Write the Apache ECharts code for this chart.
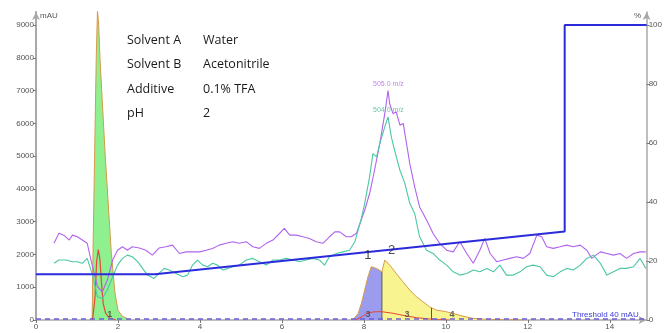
<!DOCTYPE html>
<html>
<head>
<meta charset="utf-8">
<script src="https://cdn.jsdelivr.net/npm/echarts@6.0.0/dist/echarts.min.js"></script>
<style>
  html, body { margin: 0; padding: 0; background: #fff; }
  #chart { width: 665px; height: 333px; }
</style>
</head>
<body>
<div id="chart"></div>
<script>
// retention time ticks (min) and axis ticks
const timeTicks = [0, 2, 4, 6, 8, 10, 12, 14]
const mauTicks = [0, 1000, 2000, 3000, 4000, 5000, 6000, 7000, 8000, 9000]
const pctTicks = [0, 20, 40, 60, 80, 100]

// UV trace, first (unretained) peak [time, mAU]
const uvFront = [[1.30, 0], [1.37, 60], [1.39, 2000], [1.43, 5000], [1.47, 8000], [1.50, 9450], [1.53, 9000],
  [1.56, 8000], [1.69, 5000], [1.84, 2000], [1.93, 800], [2.0, 300], [2.1, 120], [2.3, 0]]
const redFront = [[1.38, 0], [1.44, 700], [1.48, 1800], [1.52, 2150], [1.56, 1850], [1.60, 1100], [1.64, 500],
  [1.70, 200], [1.80, 60], [1.95, 0]]

// UV trace, fractions 1 and 2
const peak1 = [[7.73, 0], [7.86, 200], [7.94, 510], [8.02, 915], [8.10, 1320], [8.18, 1625], [8.31, 1575], [8.44, 1470]]
const peak2 = [[8.44, 1470], [8.51, 1830], [8.63, 1675], [8.79, 1420], [8.95, 1170], [9.12, 915], [9.28, 710],
  [9.44, 560], [9.60, 405], [9.76, 305], [10.0, 255], [10.16, 205], [10.41, 120], [10.66, 50], [11.0, 20],
  [11.5, 10], [11.9, 0]]
const redMain = [[7.8, 0], [7.95, 100], [8.07, 205], [8.25, 250], [8.43, 255], [8.71, 205], [9.0, 130],
  [9.29, 70], [9.61, 30], [9.85, 15], [10.1, 0]]
const fractionCuts = [8.44, 9.65]
const cutHeights = [1470, 370]

// mass traces (plotted on mAU scale)
const mz505 = [[0.44, 2340], [0.56, 2650], [0.68, 2590], [0.81, 2440], [0.89, 2590], [1.01, 2540], [1.13, 2440],
  [1.25, 2340], [1.38, 1625], [1.50, 1015], [1.62, 860], [1.74, 1220], [1.87, 1830], [1.99, 2130], [2.11, 2235],
  [2.23, 2130], [2.35, 2235], [2.52, 2195], [2.68, 2130], [2.84, 1980], [3.0, 2195], [3.17, 2235], [3.33, 2285],
  [3.5, 2030], [3.66, 2080], [3.82, 2080], [3.99, 2080], [4.15, 2130], [4.31, 2185], [4.47, 2285], [4.64, 2340],
  [4.8, 2390], [4.96, 2340], [5.13, 2390], [5.29, 2235], [5.45, 2185], [5.62, 2340], [5.78, 2440], [5.94, 2640],
  [6.06, 2795], [6.19, 2590], [6.35, 2590], [6.51, 2540], [6.67, 2490], [6.84, 2390], [7.0, 2340], [7.16, 2540],
  [7.29, 2690], [7.41, 2690], [7.57, 2540], [7.69, 2540], [7.82, 2650], [7.92, 3000], [8.02, 3350], [8.14, 3860],
  [8.26, 4570], [8.39, 5390], [8.51, 6300], [8.59, 7000], [8.63, 6600], [8.71, 6300], [8.79, 6350], [8.88, 5945],
  [8.96, 6000], [9.04, 5390], [9.12, 4780], [9.24, 4065], [9.36, 3450], [9.53, 3050], [9.69, 2640], [9.85, 2340],
  [10.02, 2130], [10.18, 2080], [10.34, 2390], [10.51, 2030], [10.67, 1730], [10.83, 2130], [10.95, 2490],
  [11.08, 2030], [11.24, 1780], [11.40, 1830], [11.56, 1880], [11.73, 1930], [11.89, 1880], [12.05, 2030],
  [12.22, 2590], [12.34, 2540], [12.46, 2235], [12.62, 2185], [12.79, 2235], [12.95, 2285], [13.11, 2235],
  [13.28, 2285], [13.44, 2130], [13.56, 1880], [13.77, 2080], [13.93, 2030], [14.09, 1980], [14.25, 2030],
  [14.41, 1880], [14.58, 2030], [14.74, 2080], [14.88, 2080]]
const mz504 = [[0.44, 1730], [0.56, 1830], [0.73, 1830], [0.89, 1780], [1.01, 1780], [1.13, 1730], [1.25, 1880],
  [1.38, 1370], [1.50, 710], [1.62, 660], [1.74, 915], [1.87, 1320], [1.99, 1675], [2.11, 1880], [2.23, 1980],
  [2.35, 1930], [2.48, 1780], [2.60, 1575], [2.72, 1370], [2.88, 1270], [3.0, 1420], [3.13, 1575], [3.25, 1525],
  [3.42, 1420], [3.58, 1320], [3.70, 1370], [3.82, 1675], [3.94, 1830], [4.07, 1675], [4.19, 1625], [4.31, 1730],
  [4.43, 1675], [4.56, 1525], [4.68, 1575], [4.80, 1625], [4.96, 1675], [5.13, 1830], [5.29, 1880], [5.45, 1780],
  [5.62, 1675], [5.78, 1830], [5.94, 1830], [6.11, 1880], [6.27, 1830], [6.43, 1780], [6.59, 1830], [6.76, 1880],
  [6.92, 1830], [7.04, 1675], [7.16, 1930], [7.33, 2030], [7.49, 2080], [7.65, 2130], [7.78, 2390], [7.86, 2745],
  [7.94, 3100], [8.02, 3560], [8.14, 4370], [8.22, 5080], [8.31, 4980], [8.39, 5390], [8.51, 5895], [8.59, 6200],
  [8.67, 5590], [8.75, 5180], [8.88, 4570], [9.0, 4170], [9.12, 3560], [9.24, 3250], [9.36, 2540], [9.53, 2130],
  [9.69, 2030], [9.85, 1830], [10.02, 1675], [10.18, 1470], [10.34, 1370], [10.51, 1420], [10.67, 1525],
  [10.83, 1470], [11.0, 1575], [11.16, 1470], [11.32, 1675], [11.48, 1370], [11.65, 1370], [11.81, 1470],
  [11.97, 1625], [12.13, 1675], [12.30, 1625], [12.46, 1370], [12.62, 1320], [12.79, 1470], [12.95, 1575],
  [13.11, 1525], [13.28, 1675], [13.44, 1880], [13.60, 1980], [13.77, 1730], [13.93, 1370], [14.09, 1470],
  [14.25, 1575], [14.41, 1575], [14.58, 1625], [14.74, 1880], [14.88, 1575]]

// gradient, % B
const gradient = [[0, 15.5], [2.9, 15.5], [12.9, 30], [12.9, 100], [14.9, 100]]

// annotations
const peakNames = ["1", "2"]
const peakTimes = [8.1, 8.68]
const peakHeights = [1640, 1800]
const fractionNames = ["1", "3", "3", "4"]
const fractionTimes = [1.8, 8.1, 9.05, 10.15]
const massNames = ["505.0 m/z", "504.0 m/z"]
const massTimes = [8.6, 8.6]
const massHeights = [7000, 6200]
const massColors = ["#b064ee", "#3fb898"]
const conditionNames = ["Solvent A", "Solvent B", "Additive", "pH"]
const conditionValues = ["Water", "Acetonitrile", "0.1% TFA", "2"]
const threshold = 40

const chart = echarts.init(document.getElementById("chart"))

const axisColor = "#a8a8a8"
const labelStyle = { color: "#555", fontSize: 8, fontFamily: "Liberation Sans", formatter: (v) => String(v) }

const areaSeries = (data, fill, z) => ({
  type: "line",
  data,
  symbol: "none",
  z,
  lineStyle: { color: "#d89a4a", width: 1 },
  areaStyle: { color: fill, opacity: 1 },
})

const textSeries = (names, times, heights, colors, fontSize, fontWeight, offset) => ({
  type: "scatter",
  symbolSize: 0,
  z: 20,
  data: names.map((n, i) => ({
    name: n,
    value: [times[i], heights[i]],
    label: { color: Array.isArray(colors) ? colors[i] : colors },
  })),
  label: {
    show: true,
    formatter: (p) => p.name,
    position: "top",
    offset,
    fontSize,
    fontWeight,
    fontFamily: "Liberation Sans",
  },
})

const option = {
  animation: false,
  grid: { left: 36, right: 18, top: 12, bottom: 13 },
  xAxis: {
    type: "value",
    min: 0,
    max: 14.9,
    splitLine: { show: false },
    axisLine: { lineStyle: { color: axisColor, width: 1.5 }, symbol: ["none", "arrow"], symbolSize: [6, 8] },
    axisTick: { customValues: timeTicks, length: 3, lineStyle: { color: "#777" } },
    axisLabel: { customValues: timeTicks, margin: 3, ...labelStyle },
  },
  yAxis: [
    {
      type: "value",
      min: 0,
      max: 9400,
      splitLine: { show: false },
      axisLine: { show: true, lineStyle: { color: axisColor, width: 2 }, symbol: ["none", "arrow"], symbolSize: [6, 8] },
      axisTick: { show: true, customValues: mauTicks, length: 3, lineStyle: { color: "#777" } },
      axisLabel: { customValues: mauTicks, margin: 2, ...labelStyle },
    },
    {
      type: "value",
      min: 0,
      max: 9400 / 90,
      position: "right",
      splitLine: { show: false },
      axisLine: { show: true, lineStyle: { color: axisColor, width: 1.5 }, symbol: ["none", "arrow"], symbolSize: [6, 8] },
      axisTick: { show: true, customValues: pctTicks, length: 3, lineStyle: { color: "#777" } },
      axisLabel: { customValues: pctTicks, margin: 2, ...labelStyle },
    },
  ],
  series: [
    areaSeries(uvFront, "#8ff08f", 2),
    areaSeries(peak1, "#9c9cee", 2),
    areaSeries(peak2, "#f8f490", 2),
    {
      type: "line",
      data: fractionCuts.flatMap((t, i) => [[t, 0], [t, cutHeights[i]], [t, "-"]]),
      symbol: "none",
      connectNulls: false,
      z: 3,
      lineStyle: { color: "#555", width: 1 },
    },
    { type: "line", data: redFront, symbol: "none", z: 4, lineStyle: { color: "#e2493a", width: 1.2 } },
    { type: "line", data: redMain, symbol: "none", z: 4, lineStyle: { color: "#e2493a", width: 1 } },
    {
      type: "line",
      data: [],
      z: 5,
      markLine: {
        silent: true,
        symbol: "none",
        label: { show: false },
        lineStyle: { color: "#6b5fd6", type: [5, 4], width: 1.5 },
        data: [{ yAxis: threshold }],
      },
    },
    { type: "line", data: mz505, symbol: "none", z: 6, lineStyle: { color: "#b064ee", width: 1.1 } },
    { type: "line", data: mz504, symbol: "none", z: 6, lineStyle: { color: "#4cc7a6", width: 1.1 } },
    { type: "line", data: gradient, yAxisIndex: 1, symbol: "none", z: 7, lineStyle: { color: "#2b2bdc", width: 2 } },
    textSeries(peakNames, peakTimes, peakHeights, "#222", 13, "normal", [0, 1]),
    textSeries(fractionNames, fractionTimes, fractionTimes.map(() => 0), "#444", 9, "bold", [0, 4]),
    textSeries(massNames, massTimes, massHeights, massColors, 7, "normal", [0, 2]),
  ],
  graphic: [
    ...conditionNames.flatMap((n, i) => [
      { type: "text", left: 127, top: 34 + i * 24.3, style: { text: n, fontSize: 12.5, fontFamily: "Open Sans", fill: "#1a1a1a" } },
      { type: "text", left: 203, top: 34 + i * 24.3, style: { text: conditionValues[i], fontSize: 12.5, fontFamily: "Open Sans", fill: "#1a1a1a" } },
    ]),
    { type: "text", left: 40, top: 12, style: { text: "mAU", fontSize: 8, fontFamily: "Liberation Sans", fill: "#555" } },
    { type: "text", left: 634, top: 12, style: { text: "%", fontSize: 8, fontFamily: "Liberation Sans", fill: "#555" } },
    { type: "text", left: 572, top: 311, style: { text: "Threshold 40 mAU", fontSize: 8, fontFamily: "Liberation Sans", fill: "#3b3be0" } },
  ],
}

chart.setOption(option)
</script>
</body>
</html>
